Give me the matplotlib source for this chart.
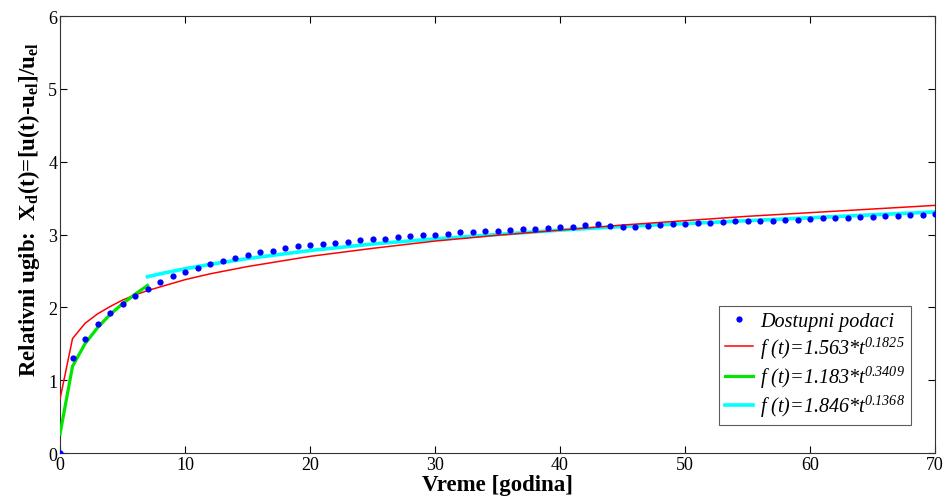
import numpy as np
import matplotlib
matplotlib.use("Agg")
import matplotlib.pyplot as plt

plt.rcParams["font.family"] = ["Liberation Serif", "DejaVu Serif"]
plt.rcParams["mathtext.fontset"] = "custom"
plt.rcParams["mathtext.rm"] = "Liberation Serif:italic"
plt.rcParams["mathtext.it"] = "Liberation Serif:italic"
plt.rcParams["mathtext.bf"] = "Liberation Serif:bold"

# measured data (years 0..70)
years = np.arange(0, 71)
measured = [0.00, 1.31, 1.57, 1.77, 1.92, 2.04, 2.15, 2.25, 2.35, 2.43,
            2.49, 2.54, 2.59, 2.64, 2.68, 2.72, 2.76, 2.78, 2.82, 2.84,
            2.86, 2.87, 2.89, 2.90, 2.92, 2.935, 2.94, 2.97, 2.98, 2.99,
            3.00, 3.01, 3.03, 3.04, 3.045, 3.05, 3.06, 3.075, 3.08, 3.095,
            3.10, 3.11, 3.13, 3.14, 3.12, 3.10, 3.11, 3.12, 3.13, 3.14,
            3.145, 3.155, 3.16, 3.17, 3.18, 3.18, 3.18, 3.19, 3.20, 3.205,
            3.21, 3.22, 3.22, 3.23, 3.24, 3.245, 3.255, 3.26, 3.265, 3.27,
            3.28]

# fitted curves at their vertices
red_t = [0, 1, 2, 3, 4, 5, 6, 7, 8, 10, 12, 15, 20, 25, 30, 35, 40, 45, 50, 55, 60, 65, 70]
red_y = [0.74, 1.57, 1.78, 1.91, 2.01, 2.10, 2.17, 2.23, 2.28, 2.38, 2.46, 2.56,
         2.70, 2.81, 2.91, 2.99, 3.06, 3.13, 3.19, 3.25, 3.30, 3.35, 3.40]

green_t = [0, 1, 2, 3, 4, 5, 6, 7]
green_y = [0.26, 1.19, 1.50, 1.72, 1.90, 2.05, 2.18, 2.30]

cyan_t = [7, 8, 10, 12, 15, 20, 25, 30, 35, 40, 45, 50, 55, 60, 65, 70]
cyan_y = [2.42, 2.46, 2.53, 2.59, 2.67, 2.78, 2.87, 2.94, 3.00, 3.06, 3.11,
          3.15, 3.19, 3.23, 3.27, 3.31]

labels = ["Dostupni podaci",
          "f (t)=1.563*t$^{0.1825}$",
          "f (t)=1.183*t$^{0.3409}$",
          "f (t)=1.846*t$^{0.1368}$"]

fig = plt.figure(figsize=(9.48, 5.02), dpi=100)
ax = fig.add_axes([0.0633, 0.0956, 0.9230, 0.8705])

ax.plot(years, measured, "o", color=(0, 0, 1), markersize=4.5, markeredgewidth=0,
        label=labels[0], zorder=4)
ax.plot(red_t, red_y, color=(1, 0, 0), lw=1.1, label=labels[1], zorder=3)
ax.plot(green_t, green_y, color=(0, 0.9, 0), lw=2.3, label=labels[2], zorder=3)
ax.plot(cyan_t, cyan_y, color=(0, 1, 1), lw=2.6, label=labels[3], zorder=2)

ax.set_xlim(0, 70)
ax.set_ylim(0, 6)
ax.set_xticks(range(0, 71, 10))
ax.set_yticks(range(0, 7))
ax.tick_params(direction="in", top=True, right=True, labelsize=13, length=5, pad=2)
for s in ax.spines.values():
    s.set_color("#333333")
    s.set_linewidth(0.8)

ax.set_xlabel("Vreme [godina]", fontsize=16.5, fontweight="bold", labelpad=1)
ax.set_ylabel(r"Relativni ugib:  X$_\mathbf{d}$(t)=[u(t)-u$_\mathbf{el}$]/u$_\mathbf{el}$",
              fontsize=16.5, fontweight="bold")
ax.yaxis.set_label_coords(-0.021, 0.56)

leg = ax.legend(loc="lower right", bbox_to_anchor=(0.973, 0.064),
                prop={"style": "italic", "size": 14.5}, frameon=True, fancybox=False,
                handlelength=1.4, borderpad=0.3, labelspacing=0.15, handletextpad=0.35,
                borderaxespad=0)
leg.get_frame().set_edgecolor("#333333")
leg.get_frame().set_linewidth(0.8)

fig.savefig("out.png", dpi=100)
